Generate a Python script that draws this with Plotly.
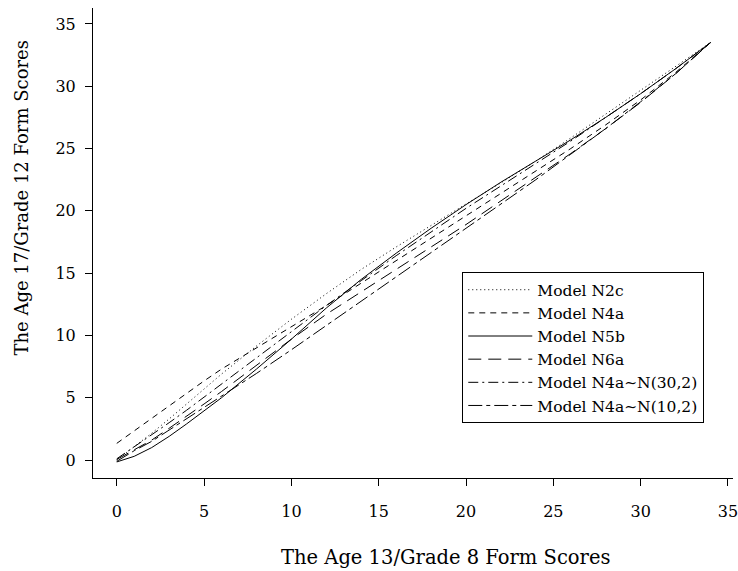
import plotly.graph_objects as go

# Age 13/Grade 8 form scores (x) and equated Age 17/Grade 12 form scores (y)
x_scores = [0, 1, 2, 3, 4, 5, 6, 8, 10, 12, 14, 16, 18, 20, 22, 24, 26, 28, 30, 32, 34]

n2c = [0.0, 1.05, 2.15, 3.3, 4.5, 5.7, 6.9, 9.15, 11.3, 13.35, 15.3, 17.1, 18.85, 20.55, 22.25, 24.0, 25.85, 27.75, 29.65, 31.6, 33.5]
n4a = [1.34, 2.35, 3.35, 4.35, 5.35, 6.35, 7.3, 9.0, 10.7, 12.4, 14.2, 16.0, 17.8, 19.6, 21.4, 23.2, 25.0, 26.9, 28.9, 31.1, 33.5]
n5b = [-0.15, 0.3, 1.0, 1.9, 2.9, 3.95, 5.0, 7.3, 9.7, 12.2, 14.5, 16.6, 18.6, 20.5, 22.3, 24.0, 25.7, 27.5, 29.4, 31.4, 33.5]
n6a = [0.05, 0.85, 1.6, 2.55, 3.5, 4.5, 5.5, 7.6, 9.7, 11.7, 13.5, 15.3, 17.1, 18.9, 20.8, 22.7, 24.6, 26.6, 28.7, 31.0, 33.5]
n4a_n30 = [0.1, 1.05, 2.0, 3.0, 4.0, 5.05, 6.1, 8.2, 10.3, 12.4, 14.4, 16.4, 18.3, 20.2, 22.0, 23.8, 25.6, 27.5, 29.4, 31.4, 33.5]
n4a_n10 = [-0.1, 0.75, 1.5, 2.4, 3.3, 4.2, 5.1, 6.95, 8.85, 10.8, 12.75, 14.7, 16.65, 18.6, 20.55, 22.5, 24.55, 26.6, 28.75, 31.0, 33.5]

series_names = ["Model N2c", "Model N4a", "Model N5b", "Model N6a",
                "Model N4a\u223cN(30,2)", "Model N4a\u223cN(10,2)"]
series_values = [n2c, n4a, n5b, n6a, n4a_n30, n4a_n10]
series_dash = ["1px,3px", "6px,5px", "solid", "13px,7px",
               "10px,4px,2px,4px", "14px,4px,4px,4px"]

x_ticks = [0, 5, 10, 15, 20, 25, 30, 35]
y_ticks = [0, 5, 10, 15, 20, 25, 30, 35]

x_title = "The Age 13/Grade 8 Form Scores"
y_title = "The Age 17/Grade 12 Form Scores"

FONT = "DejaVu Serif"

fig = go.Figure()
for name, vals, dash in zip(series_names, series_values, series_dash):
    fig.add_trace(go.Scatter(
        x=x_scores, y=vals, mode="lines", name=name,
        line=dict(color="black", width=1, dash=dash),
    ))

axis_common = dict(
    showline=True, linecolor="black", linewidth=1,
    ticks="outside", ticklen=7, tickwidth=1, tickcolor="black",
    showgrid=False, zeroline=False, ticklabeloverflow="allow",
    tickfont=dict(family=FONT, size=16, color="black"),
)

fig.update_layout(
    width=738, height=571,
    margin=dict(l=93, r=0, t=8, b=93),
    paper_bgcolor="white", plot_bgcolor="white",
    font=dict(family=FONT, color="black"),
    xaxis=dict(range=[-1.36, 35.29], tickvals=x_ticks, ticklabelstandoff=12,
               **axis_common),
    yaxis=dict(range=[-1.44, 36.28], tickvals=y_ticks, ticklabelstandoff=6,
               **axis_common),
    showlegend=True,
    legend=dict(
        x=0.577, y=0.438, xanchor="left", yanchor="top",
        bgcolor="white", bordercolor="black", borderwidth=1,
        font=dict(family=FONT, size=15.5, color="black"),
        tracegroupgap=0, itemwidth=64,
    ),
    annotations=[
        dict(text=x_title, xref="paper", yref="paper",
             x=(448 - 93) / 645, y=-(557 - 478) / 470,
             xanchor="center", yanchor="middle", showarrow=False,
             font=dict(family=FONT, size=19.5, color="black")),
        dict(text=y_title, xref="paper", yref="paper",
             x=-(93 - 20) / 645, y=(478 - 198) / 470,
             xanchor="center", yanchor="middle", showarrow=False, textangle=-90,
             font=dict(family=FONT, size=18, color="black")),
    ],
)

fig.write_html("out.html")
